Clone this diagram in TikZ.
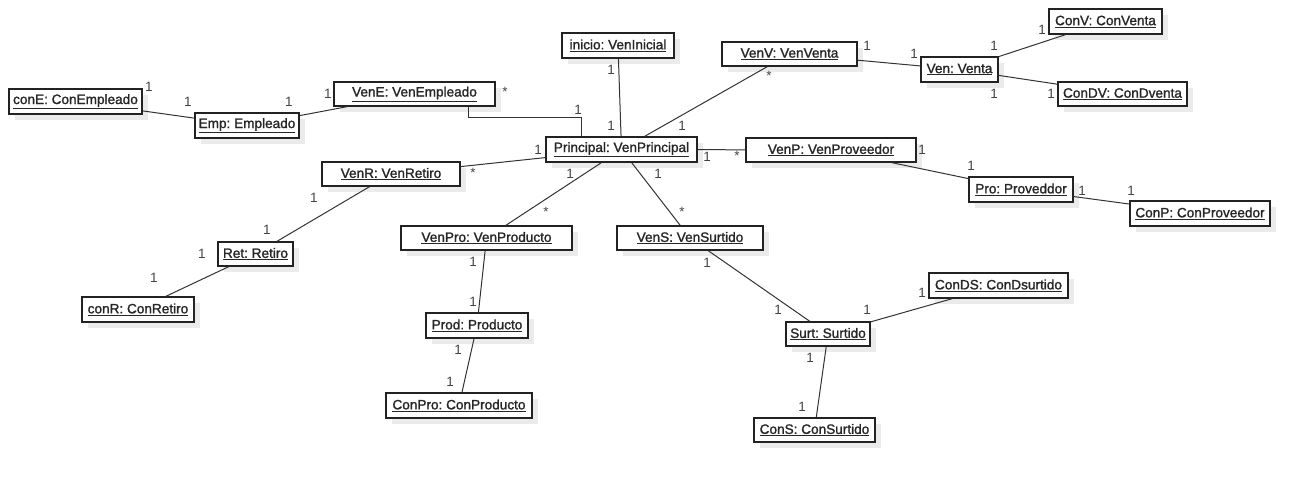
\documentclass[tikz,border=0pt]{standalone}
\usepackage{fontspec}
\setmainfont{Liberation Sans}
\newfontfamily\objfont[FakeBold=1.4]{Liberation Sans}
\usetikzlibrary{shadows,calc}
\definecolor{boxline}{HTML}{222222}
\definecolor{conline}{HTML}{333333}
\definecolor{shadowc}{HTML}{EBEBEB}
\definecolor{multc}{HTML}{444444}
\tikzset{
  objbox/.style={draw=boxline, line width=1.3pt, fill=white, inner sep=0pt,
    font=\frenchspacing\objfont\fontsize{13.6}{15}\selectfont, text=black!85,
    drop shadow={shadow xshift=6pt, shadow yshift=-6pt, fill=shadowc, opacity=1, draw=none}},
  conn/.style={draw=conline, line width=1pt},
  multlbl/.style={inner sep=0pt, text=multc, font=\fontsize{13.5}{14}\selectfont}
}
\newcommand\umlobj[6]{\node[objbox, minimum width={(#4-#2)*1pt}, minimum height={(#5-#3)*1pt}] (#1) at ({(#2+#4)/2},{(#3+#5)/2}) {\underline{#6}};}
\begin{document}
\frenchspacing
\begin{tikzpicture}[x=1pt,y=-1pt]
\useasboundingbox[fill=white] (0,0) rectangle (1310,482);
% objects
\umlobj{conE}{9}{89}{142}{114}{conE: ConEmpleado}
\umlobj{Emp}{195}{113}{299}{138}{Emp: Empleado}
\umlobj{VenE}{334}{82}{495}{106}{VenE: VenEmpleado}
\umlobj{inicio}{562}{33}{674}{58}{inicio: VenInicial}
\umlobj{VenV}{722}{42}{857}{66}{VenV: VenVenta}
\umlobj{Ven}{921}{57}{998}{82}{Ven: Venta}
\umlobj{ConV}{1049}{9}{1162}{34}{ConV: ConVenta}
\umlobj{ConDV}{1058}{82}{1187}{106}{ConDV: ConDventa}
\umlobj{Principal}{546}{137}{697}{162}{Principal: VenPrincipal}
\umlobj{VenP}{746}{138}{916}{162}{VenP: VenProveedor}
\umlobj{Pro}{969}{177}{1073}{202}{Pro: Proveddor}
\umlobj{ConP}{1130}{201}{1270}{226}{ConP: ConProveedor}
\umlobj{VenR}{322}{162}{460}{186}{VenR: VenRetiro}
\umlobj{Ret}{218}{242}{293}{266}{Ret: Retiro}
\umlobj{conR}{82}{297}{194}{322}{conR: ConRetiro}
\umlobj{VenPro}{401}{226}{572}{250}{VenPro: VenProducto}
\umlobj{VenS}{617}{226}{763}{250}{VenS: VenSurtido}
\umlobj{Prod}{426}{313}{528}{338}{Prod: Producto}
\umlobj{ConPro}{386}{393}{532}{418}{ConPro: ConProducto}
\umlobj{Surt}{786}{322}{870}{346}{Surt: Surtido}
\umlobj{ConDS}{929}{273}{1068}{298}{ConDS: ConDsurtido}
\umlobj{ConS}{754}{418}{875}{442}{ConS: ConSurtido}
% connectors
\draw[conn] (conE) -- (Emp);
\draw[conn] (Emp) -- (VenE);
\draw[conn] (468,0 |- VenE.south) |- (581,117) -- (581,0 |- Principal.north);
\draw[conn] (inicio) -- (Principal);
\draw[conn] (VenV) -- (Principal);
\draw[conn] (VenV) -- (Ven);
\draw[conn] (Ven) -- (ConV);
\draw[conn] (Ven) -- (ConDV);
\draw[conn] (Principal) -- (VenP);
\draw[conn] (VenP) -- (Pro);
\draw[conn] (Pro) -- (ConP);
\draw[conn] (VenR) -- (Principal);
\draw[conn] (VenR) -- (Ret);
\draw[conn] (Ret) -- (conR);
\draw[conn] (Principal) -- (VenPro);
\draw[conn] (Principal) -- (VenS);
\draw[conn] (VenPro) -- (Prod);
\draw[conn] (Prod) -- (ConPro);
\draw[conn] (VenS) -- (Surt);
\draw[conn] (Surt) -- (ConDS);
\draw[conn] (Surt) -- (ConS);
% multiplicities
\node[multlbl] (m1) at (149,87) {1};
\node[multlbl] (m2) at (188,102) {1};
\node[multlbl] (m3) at (289,102) {1};
\node[multlbl] (m4) at (328,94) {1};
\node[multlbl] (m5) at (505,92) {*};
\node[multlbl] (m6) at (578,110) {1};
\node[multlbl] (m7) at (611,70) {1};
\node[multlbl] (m8) at (611,126) {1};
\node[multlbl] (m9) at (769,76) {*};
\node[multlbl] (m10) at (682,126) {1};
\node[multlbl] (m11) at (867,46) {1};
\node[multlbl] (m12) at (914,54) {1};
\node[multlbl] (m13) at (1042,30) {1};
\node[multlbl] (m14) at (994,46) {1};
\node[multlbl] (m15) at (994,94) {1};
\node[multlbl] (m16) at (1051,94) {1};
\node[multlbl] (m17) at (538,150) {1};
\node[multlbl] (m18) at (707,157) {1};
\node[multlbl] (m19) at (737,156) {*};
\node[multlbl] (m20) at (922,150) {1};
\node[multlbl] (m21) at (971,166) {1};
\node[multlbl] (m22) at (1082,191) {1};
\node[multlbl] (m23) at (1131,191) {1};
\node[multlbl] (m24) at (473,173) {*};
\node[multlbl] (m25) at (570,174) {1};
\node[multlbl] (m26) at (658,174) {1};
\node[multlbl] (m27) at (314,198) {1};
\node[multlbl] (m28) at (267,230) {1};
\node[multlbl] (m29) at (202,254) {1};
\node[multlbl] (m30) at (154,278) {1};
\node[multlbl] (m31) at (546,212) {*};
\node[multlbl] (m32) at (682,212) {*};
\node[multlbl] (m33) at (473,262) {1};
\node[multlbl] (m34) at (473,302) {1};
\node[multlbl] (m35) at (707,263) {1};
\node[multlbl] (m36) at (778,310) {1};
\node[multlbl] (m37) at (867,310) {1};
\node[multlbl] (m38) at (922,293) {1};
\node[multlbl] (m39) at (458,350) {1};
\node[multlbl] (m40) at (450,382) {1};
\node[multlbl] (m41) at (810,358) {1};
\node[multlbl] (m42) at (802,407) {1};
\end{tikzpicture}
\end{document}
